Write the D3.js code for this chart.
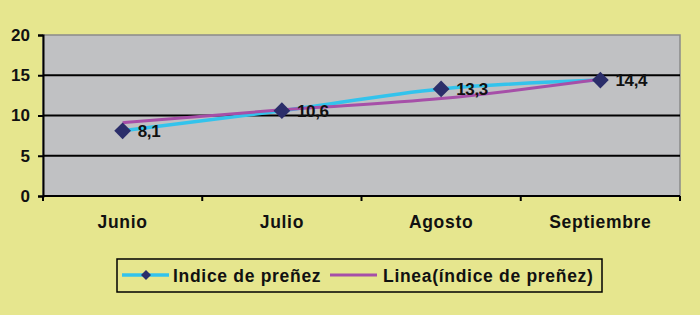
<!DOCTYPE html>
<html>
<head>
<meta charset="utf-8">
<script src="https://cdn.jsdelivr.net/npm/d3@7"></script>
<style>
  body { margin: 0; background: #e6e68e; }
  text { font-family: "Liberation Sans", Arial, sans-serif; font-weight: bold; fill: #111; }
</style>
</head>
<body>
<svg id="chart" width="700" height="315"></svg>
<script>
// data
var months = ["Junio", "Julio", "Agosto", "Septiembre"];
var indice = [8.1, 10.6, 13.3, 14.4];
var labels = ["8,1", "10,6", "13,3", "14,4"];
var trend = [9.1, 10.7, 12.1, 14.5];
var yTicks = [0, 5, 10, 15, 20];

var svg = d3.select("#chart");
var plot = {left: 43, top: 35, right: 680, bottom: 196};

svg.append("rect").attr("width", 700).attr("height", 315).attr("fill", "#e6e68e");

var x = d3.scaleBand().domain(months).range([plot.left, plot.right]);
var y = d3.scaleLinear().domain([0, 20]).range([plot.bottom, plot.top]);

// plot background
svg.append("rect")
    .attr("x", plot.left).attr("y", plot.top)
    .attr("width", plot.right - plot.left).attr("height", plot.bottom - plot.top)
    .attr("fill", "#c0c1c3").attr("stroke", "#8a8a8a").attr("stroke-width", 1.5);

// gridlines
svg.selectAll("line.grid")
    .data(yTicks.filter(function (d) { return d > 0 && d < 20; }))
    .enter().append("line")
    .attr("class", "grid")
    .attr("x1", plot.left).attr("x2", plot.right)
    .attr("y1", function (d) { return y(d); }).attr("y2", function (d) { return y(d); })
    .attr("stroke", "#000").attr("stroke-width", 2);

// y axis
var yAxis = svg.append("g")
    .attr("transform", "translate(" + plot.left + ",0)")
    .call(d3.axisLeft(y).tickValues(yTicks).tickSize(5).tickPadding(8));
yAxis.select(".domain").attr("stroke", "#000").attr("stroke-width", 2);
yAxis.selectAll(".tick line").attr("stroke", "#000").attr("stroke-width", 2);
yAxis.selectAll(".tick text").attr("font-size", 17).attr("font-family", "Liberation Sans").attr("font-weight", "bold").attr("fill", "#111");

// x axis: ticks at band edges
var xg = svg.append("g");
xg.append("line")
    .attr("x1", plot.left).attr("x2", plot.right)
    .attr("y1", plot.bottom).attr("y2", plot.bottom)
    .attr("stroke", "#000").attr("stroke-width", 2);
var edges = months.map(function (m) { return x(m); }).concat([x(months[months.length - 1]) + x.bandwidth()]);
xg.selectAll("line.tick")
    .data(edges)
    .enter().append("line")
    .attr("class", "tick")
    .attr("x1", function (d) { return d; }).attr("x2", function (d) { return d; })
    .attr("y1", plot.bottom).attr("y2", plot.bottom + 5)
    .attr("stroke", "#000").attr("stroke-width", 2);
xg.selectAll("text")
    .data(months)
    .enter().append("text")
    .attr("x", function (d) { return x(d) + x.bandwidth() / 2; })
    .attr("y", 228)
    .attr("text-anchor", "middle")
    .attr("font-size", 17.5)
    .attr("letter-spacing", 0.7)
    .text(function (d) { return d; });

var cx = function (d, i) { return x(months[i]) + x.bandwidth() / 2; };

// series line
svg.append("path")
    .datum(indice)
    .attr("fill", "none").attr("stroke", "#33c3ec").attr("stroke-width", 3.5)
    .attr("d", d3.line().x(cx).y(function (d) { return y(d); }).curve(d3.curveMonotoneX));

// trend line
svg.append("path")
    .datum(trend)
    .attr("fill", "none").attr("stroke", "#a64fa8").attr("stroke-width", 3)
    .attr("d", d3.line().x(cx).y(function (d) { return y(d); }).curve(d3.curveMonotoneX));

// markers
var diamond = d3.symbol().type(d3.symbolSquare).size(140);
svg.selectAll("path.marker")
    .data(indice)
    .enter().append("path")
    .attr("class", "marker")
    .attr("d", diamond)
    .attr("transform", function (d, i) { return "translate(" + cx(d, i) + "," + y(d) + ") rotate(45)"; })
    .attr("fill", "#2b2e6a");

// data labels
svg.selectAll("text.lbl")
    .data(indice)
    .enter().append("text")
    .attr("class", "lbl")
    .attr("x", function (d, i) { return cx(d, i) + 15; })
    .attr("y", function (d) { return y(d) + 6; })
    .attr("font-size", 17)
    .attr("letter-spacing", -0.3)
    .text(function (d, i) { return labels[i]; });

// legend
var lg = svg.append("g");
lg.append("rect")
    .attr("x", 117).attr("y", 259).attr("width", 485).attr("height", 33)
    .attr("fill", "none").attr("stroke", "#000").attr("stroke-width", 1.5);
lg.append("line")
    .attr("x1", 122).attr("x2", 169).attr("y1", 275).attr("y2", 275)
    .attr("stroke", "#33c3ec").attr("stroke-width", 3.5);
lg.append("path")
    .attr("d", d3.symbol().type(d3.symbolSquare).size(50))
    .attr("transform", "translate(146,275) rotate(45)")
    .attr("fill", "#2b2e6a");
lg.append("text").attr("x", 173).attr("y", 282).attr("font-size", 17.5).attr("letter-spacing", 0.7).text("Indice de preñez");
lg.append("line")
    .attr("x1", 330).attr("x2", 377).attr("y1", 275).attr("y2", 275)
    .attr("stroke", "#a64fa8").attr("stroke-width", 3);
lg.append("text").attr("x", 383).attr("y", 282).attr("font-size", 17.5).attr("letter-spacing", 0.7).text("Linea(índice de preñez)");
</script>
</body>
</html>
